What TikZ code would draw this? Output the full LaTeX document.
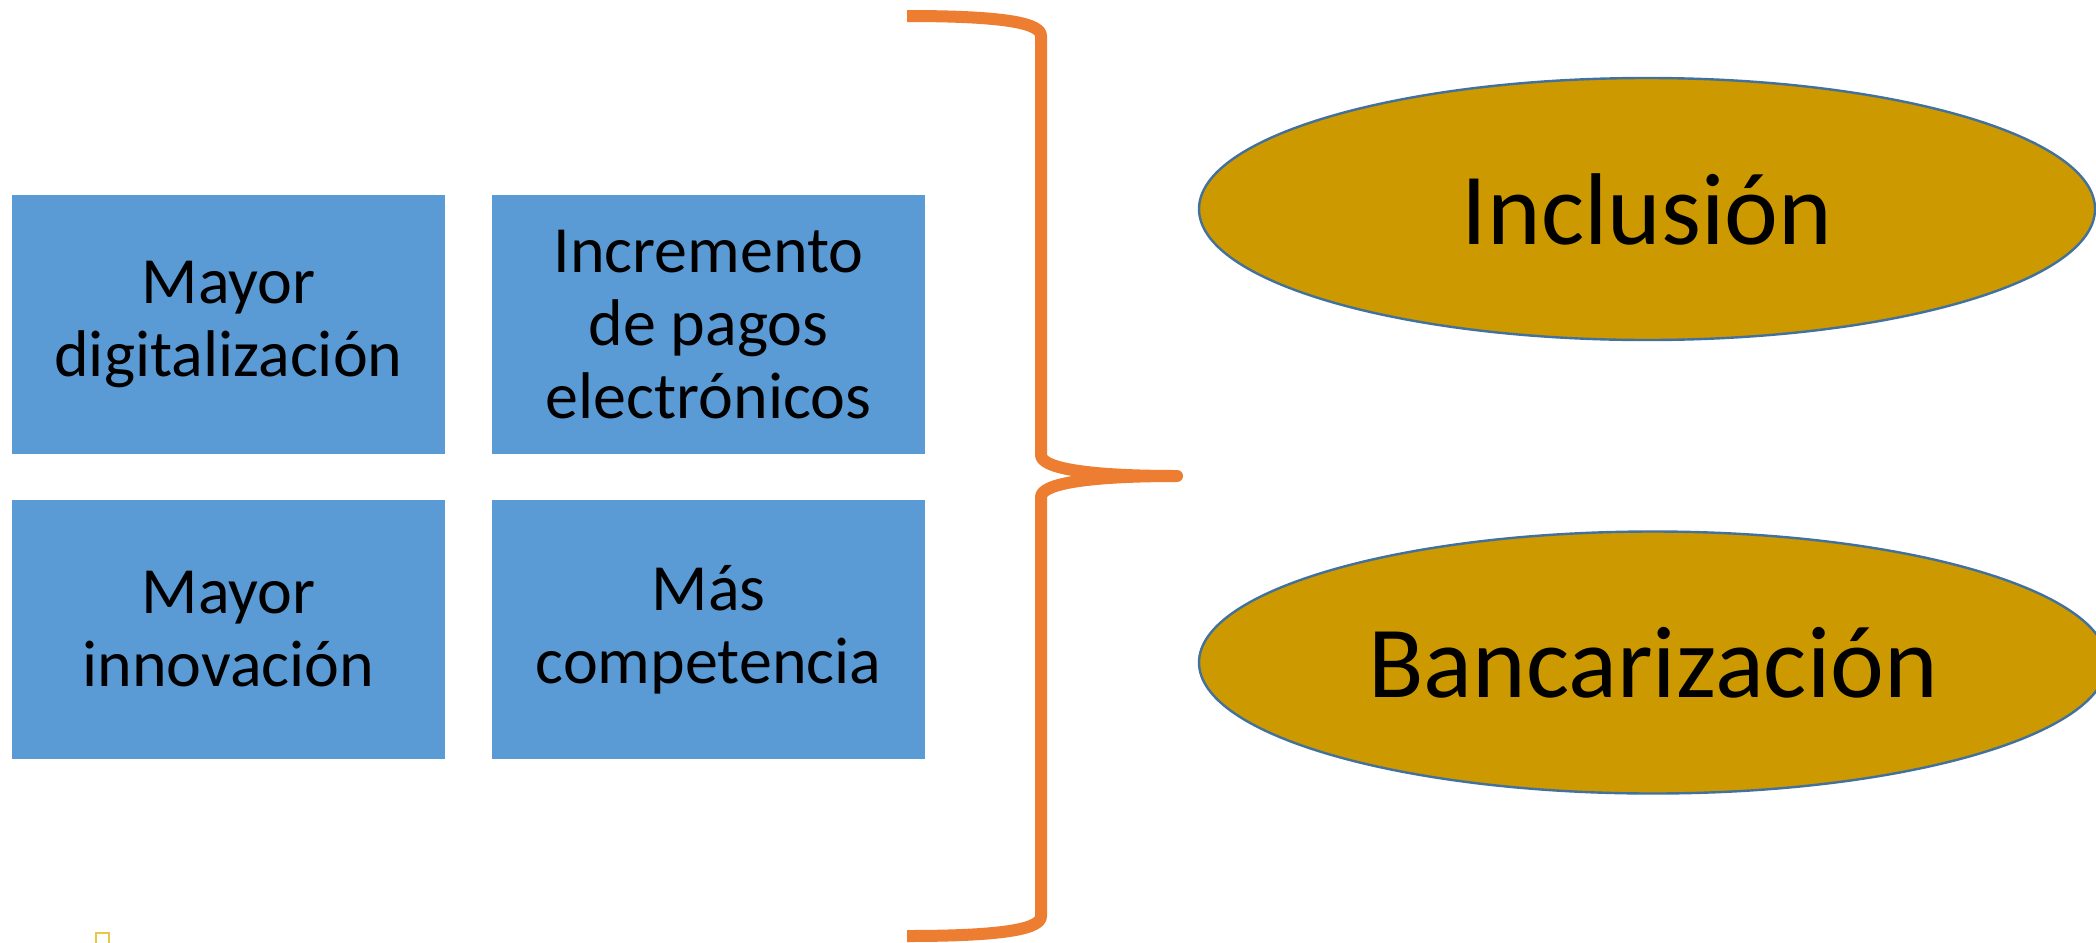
\documentclass[tikz,border=0pt]{standalone}
\usepackage{fontspec}
\setmainfont{Carlito}
\usetikzlibrary{shapes.geometric}
\definecolor{boxblue}{HTML}{5B9BD5}
\definecolor{gold}{HTML}{CC9900}
\definecolor{edgeblue}{HTML}{41719C}
\definecolor{braceorange}{HTML}{ED7D31}
\definecolor{artyellow}{HTML}{E8C84A}
\tikzset{
  factor/.style={rectangle, fill=boxblue, draw=none, minimum width=216.5pt, minimum height=129.5pt,
    inner sep=0pt, align=center, font=\fontsize{33pt}{36.5pt}\selectfont, text=black},
  result/.style={ellipse, fill=gold, draw=edgeblue, line width=1.2pt, minimum width=448pt, minimum height=131pt,
    inner sep=0pt, font=\fontsize{51pt}{61pt}\selectfont, text=black},
  bracestyle/.style={draw=braceorange, line width=6pt, line join=round}
}
\begin{document}
\begin{tikzpicture}[x=0.5pt,y=-0.5pt]
\useasboundingbox (0,0) rectangle (2096,942);
\clip (0,0) rectangle (2096,942);
\fill[white] (0,0) rectangle (2096,942);
\node[factor] (f1) at (228.5,324.5) {Mayor\\digitalización};
\node[factor] (f2) at (708.5,324.5) {Incremento\\de pagos\\electrónicos};
\node[factor] (f3) at (228.5,629.5) {Mayor\\innovación};
\node[factor] (f4) at (708.5,629.5) {Más\\competencia};
\node[result] (r1) at (1647,209) {Inclusión};
\node[result, minimum width=454pt] (r2) at (1653,662.5) {Bancarización};
\coordinate (bt) at (907,16);
\coordinate (bb) at (907,936);
\coordinate (tip) at (1177,476);
\draw[bracestyle] (bt) .. controls (1010,16) and (1041,24) .. (1041,36)
  -- (1041,455) .. controls (1041,467) and (1080,476) .. (tip)
  .. controls (1080,476) and (1041,485) .. (1041,497)
  -- (1041,916) .. controls (1041,928) and (1010,936) .. (bb);
\draw[artyellow, line width=1.2pt] (96,950) -- (96,933) -- (109,933) -- (109,950);
\end{tikzpicture}
\end{document}
